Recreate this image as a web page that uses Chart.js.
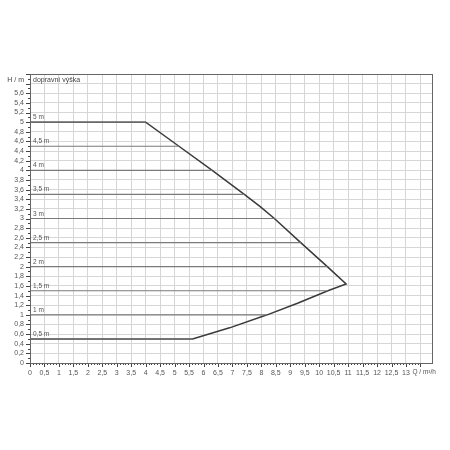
<!DOCTYPE html>
<html>
<head>
<meta charset="utf-8">
<script src="https://cdn.jsdelivr.net/npm/chart.js@4.4.0/dist/chart.umd.min.js"></script>
<style>
  html, body { margin: 0; padding: 0; background: #fff; }
  #wrap { width: 450px; height: 450px; }
</style>
</head>
<body>
<div id="wrap"><canvas id="chart"></canvas></div>
<script>
// pump curve: flat top, falling edge, tip, rising lower edge, flat bottom
const curveQ = [0, 4.0, 5.15, 6.3, 7.41, 7.95, 8.45, 9.36, 10.28, 10.93, 10.3, 9.25, 8.2, 6.9, 5.62, 0];
const curveH = [5, 5.0, 4.5, 4.0, 3.5, 3.25, 3.0, 2.5, 2.0, 1.64, 1.5, 1.24, 1.0, 0.73, 0.5, 0.5];

// constant head settings and where each line meets the curve
const levelH = [0.5, 1, 1.5, 2, 2.5, 3, 3.5, 4, 4.5, 5];
const levelEnd = [5.62, 8.2, 10.3, 10.28, 9.36, 8.45, 7.41, 6.3, 5.15, 4.0];

const xMax = 13.9;
const yMax = 6;
const xUnitLabel = 'Q / m³/h';
const yUnitLabel = 'H / m';
const yTitle = 'dopravní výška';

const font = '"Liberation Sans", Arial, sans-serif';
const fmt = v => String(Math.round(v * 10) / 10).replace('.', ',');

const datasets = levelH.map((h, i) => ({
  data: [{ x: 0, y: h }, { x: levelEnd[i], y: h }],
  borderColor: '#7a7a7a',
  borderWidth: 1.2,
  pointRadius: 0
}));
datasets.push({
  data: curveQ.map((q, i) => ({ x: q, y: curveH[i] })),
  borderColor: '#3a3a3a',
  borderWidth: 1.5,
  pointRadius: 0
});

// minor/major ticks, frame and in-plot texts
const decor = {
  id: 'decor',
  afterDraw(chart) {
    const { ctx, chartArea: a, scales: { x, y } } = chart;
    ctx.save();
    ctx.strokeStyle = '#444';
    ctx.lineWidth = 1;
    ctx.beginPath();
    x.ticks.forEach(t => {
      const n = Math.round(t.value * 10);
      if (n > 135) return;
      const px = Math.round(x.getPixelForValue(t.value)) + 0.5;
      ctx.moveTo(px, a.bottom);
      ctx.lineTo(px, a.bottom + (n % 5 === 0 ? 4 : 2));
    });
    y.ticks.forEach(t => {
      const n = Math.round(t.value * 10);
      const py = Math.round(y.getPixelForValue(t.value)) + 0.5;
      ctx.moveTo(a.left, py);
      ctx.lineTo(a.left - (n % 2 === 0 ? 4 : 2), py);
    });
    ctx.stroke();

    ctx.strokeStyle = '#666';
    ctx.strokeRect(Math.round(a.left) + 0.5, Math.round(a.top) + 0.5,
      Math.round(a.right - a.left), Math.round(a.bottom - a.top));

    ctx.fillStyle = '#555';
    ctx.font = '6.5px ' + font;
    ctx.textBaseline = 'bottom';
    ctx.textAlign = 'left';
    levelH.forEach(h => {
      ctx.fillText(fmt(h) + ' m', x.getPixelForValue(0) + 3, y.getPixelForValue(h) - 1.5);
    });

    ctx.font = '7px ' + font;
    ctx.fillStyle = '#444';
    ctx.textBaseline = 'middle';
    const ty = y.getPixelForValue(5.87);
    ctx.fillText(yTitle, x.getPixelForValue(0) + 3, ty);
    ctx.textAlign = 'right';
    ctx.fillText(yUnitLabel, a.left - 6, ty);

    // unit label in place of the 13,5 tick label
    ctx.fillStyle = '#555';
    ctx.textAlign = 'left';
    ctx.textBaseline = 'top';
    ctx.font = '6.5px ' + font;
    ctx.fillText(xUnitLabel, x.getPixelForValue(13.5) - 8, a.bottom + 6);
    ctx.restore();
  }
};

new Chart(document.getElementById('chart'), {
  type: 'line',
  data: { datasets },
  plugins: [decor],
  options: {
    responsive: true,
    maintainAspectRatio: false,
    animation: false,
    layout: { padding: { left: 4, top: 74, right: 18, bottom: 67 } },
    plugins: { legend: { display: false }, tooltip: { enabled: false } },
    scales: {
      x: {
        type: 'linear',
        min: 0,
        max: xMax,
        afterFit: s => { s.height = 20; },
        border: { display: true, color: '#444', width: 1 },
        grid: {
          color: c => (Math.round(c.tick.value * 10) % 5 === 0 && c.tick.value < 13.8) ? '#d6d6d6' : 'rgba(0,0,0,0)',
          lineWidth: 1,
          tickLength: 4,
          tickColor: 'rgba(0,0,0,0)'
        },
        ticks: {
          stepSize: 0.1,
          autoSkip: false,
          maxRotation: 0,
          padding: 2,
          color: '#555',
          font: { family: font, size: 7 },
          callback: v => {
            const n = Math.round(v * 10);
            if (n % 5 !== 0 || n > 130) return '';
            return fmt(v);
          }
        }
      },
      y: {
        type: 'linear',
        min: 0,
        max: yMax,
        afterFit: s => { s.width = 26; },
        border: { display: true, color: '#444', width: 1 },
        grid: {
          color: c => (Math.round(c.tick.value * 10) % 2 === 0) ? '#d6d6d6' : 'rgba(0,0,0,0)',
          lineWidth: 1,
          tickLength: 4,
          tickColor: 'rgba(0,0,0,0)'
        },
        ticks: {
          stepSize: 0.1,
          autoSkip: false,
          padding: 2,
          color: '#555',
          font: { family: font, size: 7 },
          callback: v => {
            const n = Math.round(v * 10);
            if (n % 2 !== 0 || n >= 58) return '';
            return fmt(v);
          }
        }
      }
    }
  }
});
</script>
</body>
</html>
